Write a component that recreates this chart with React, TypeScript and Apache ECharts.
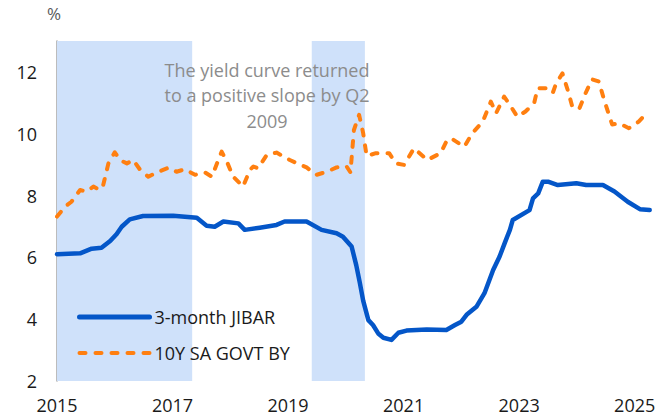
import React, { useEffect, useRef } from "react";
import * as echarts from "echarts";

const jibarDates = [2015.0, 2015.4, 2015.6, 2015.77, 2015.92, 2016.03, 2016.12, 2016.26, 2016.49, 2017.01, 2017.42, 2017.59, 2017.73, 2017.88, 2018.14, 2018.25, 2018.51, 2018.8, 2018.94, 2019.32, 2019.58, 2019.84, 2019.95, 2020.1, 2020.18, 2020.24, 2020.3, 2020.39, 2020.47, 2020.56, 2020.65, 2020.79, 2020.91, 2021.05, 2021.4, 2021.74, 2021.89, 2022.0, 2022.09, 2022.26, 2022.4, 2022.55, 2022.66, 2022.75, 2022.84, 2022.89, 2023.18, 2023.24, 2023.33, 2023.41, 2023.5, 2023.67, 2023.99, 2024.16, 2024.45, 2024.65, 2024.88, 2025.09, 2025.26];
const jibarValues = [6.1, 6.13, 6.28, 6.31, 6.53, 6.75, 6.99, 7.23, 7.34, 7.35, 7.28, 7.02, 6.99, 7.16, 7.1, 6.89, 6.96, 7.05, 7.16, 7.16, 6.89, 6.78, 6.67, 6.35, 5.75, 5.2, 4.6, 3.97, 3.81, 3.54, 3.4, 3.33, 3.56, 3.63, 3.67, 3.65, 3.81, 3.92, 4.14, 4.4, 4.84, 5.59, 6.02, 6.46, 6.89, 7.21, 7.53, 7.91, 8.07, 8.45, 8.45, 8.34, 8.4, 8.34, 8.34, 8.13, 7.8, 7.56, 7.53];

const bondDates = [2015.0, 2015.14, 2015.25, 2015.4, 2015.51, 2015.63, 2015.74, 2015.8, 2015.89, 2016.0, 2016.09, 2016.21, 2016.32, 2016.44, 2016.58, 2016.72, 2016.93, 2017.07, 2017.21, 2017.39, 2017.56, 2017.68, 2017.85, 2017.94, 2018.05, 2018.22, 2018.34, 2018.4, 2018.48, 2018.63, 2018.8, 2019.03, 2019.32, 2019.49, 2019.67, 2019.84, 2020.01, 2020.08, 2020.14, 2020.23, 2020.3, 2020.36, 2020.52, 2020.75, 2020.87, 2021.01, 2021.18, 2021.41, 2021.64, 2021.76, 2021.85, 2022.05, 2022.19, 2022.37, 2022.51, 2022.6, 2022.74, 2022.85, 2022.97, 2023.11, 2023.26, 2023.32, 2023.46, 2023.58, 2023.64, 2023.75, 2023.84, 2023.92, 2024.04, 2024.15, 2024.26, 2024.38, 2024.47, 2024.61, 2024.73, 2024.9, 2025.07, 2025.22];
const bondValues = [7.32, 7.64, 7.8, 8.18, 8.13, 8.29, 8.18, 8.34, 9.04, 9.4, 9.15, 9.04, 9.15, 8.83, 8.61, 8.74, 8.9, 8.77, 8.85, 8.67, 8.75, 8.61, 9.42, 9.1, 8.61, 8.29, 8.83, 8.94, 8.88, 9.31, 9.39, 9.15, 8.91, 8.67, 8.77, 8.91, 8.95, 8.75, 10.12, 10.61, 10.02, 9.28, 9.37, 9.37, 9.04, 8.99, 9.53, 9.15, 9.37, 9.82, 9.82, 9.58, 10.02, 10.39, 11.04, 10.66, 11.2, 10.9, 10.55, 10.72, 10.99, 11.47, 11.47, 11.31, 11.63, 11.95, 11.42, 10.88, 10.8, 11.31, 11.76, 11.69, 11.1, 10.3, 10.34, 10.18, 10.39, 10.7];

const shadedPeriods = [
  [2015.0, 2017.34],
  [2019.41, 2020.33],
];

const seriesNames = ["3-month JIBAR", "10Y SA GOVT BY"];
const xTicks = [2015, 2017, 2019, 2021, 2023, 2025];
const yTicks = [2, 4, 6, 8, 10, 12];
const annotationLines = ["The yield curve returned", "to a positive slope by Q2", "2009"];
const unitLabel = "%";

const FONT = "'Open Sans', 'Liberation Sans', sans-serif";
const BLUE = "#0456c8";
const ORANGE = "#ff7f10";

export default function App() {
  const ref = useRef<HTMLDivElement>(null);
  useEffect(() => {
    if (!ref.current) return;
    const chart = echarts.init(ref.current, undefined, { renderer: "svg" });
    const zip = (a: number[], b: number[]) => a.map((d, i) => [d, b[i]]);
    chart.setOption({
      animation: false,
      backgroundColor: "#ffffff",
      textStyle: { fontFamily: FONT },
      grid: { left: 57, right: 20, top: 41, bottom: 38, containLabel: false },
      xAxis: {
        type: "value",
        min: xTicks[0],
        max: 2025.3,
        interval: 2,
        axisLine: { show: false },
        axisTick: { show: false },
        splitLine: { show: false },
        axisLabel: {
          color: "#1a1a1a",
          fontSize: 18,
          fontFamily: FONT,
          margin: 15,
          showMaxLabel: false,
          formatter: (v: number) => (xTicks.includes(Math.round(v)) && Math.abs(v - Math.round(v)) < 1e-6 ? String(Math.round(v)) : ""),
        },
      },
      yAxis: {
        type: "value",
        min: yTicks[0],
        max: 13,
        interval: 2,
        axisLine: { show: true, lineStyle: { color: "#a6a6a6", width: 1.5 } },
        axisTick: { show: false },
        splitLine: { show: false },
        axisLabel: {
          color: "#1a1a1a",
          fontSize: 18,
          fontFamily: FONT,
          margin: 20,
          formatter: (v: number) => (yTicks.includes(v) ? String(v) : ""),
        },
      },
      legend: {
        data: [
          { name: seriesNames[0], lineStyle: { width: 5, color: BLUE } },
          { name: seriesNames[1], lineStyle: { width: 4, color: ORANGE, type: [6, 10], cap: "round" } },
        ],
        orient: "vertical",
        left: 72,
        top: 300,
        itemWidth: 70,
        itemHeight: 14,
        itemGap: 12,
        itemStyle: { opacity: 0 },
        textStyle: { fontSize: 18, fontFamily: FONT, color: "#1a1a1a", lineHeight: 24 },
      },
      graphic: [
        {
          type: "text",
          left: 47,
          top: 5,
          z: 100,
          style: { text: unitLabel, fill: "#595959", font: `17px ${FONT}` },
        },
        {
          type: "text",
          x: 267,
          y: 57,
          z: 100,
          style: {
            text: annotationLines.join("\n"),
            fill: "#8c8c8c",
            font: `18px ${FONT}`,
            align: "center",
            lineHeight: 25.5,
          },
        },
      ],
      series: [
        {
          name: "shade",
          type: "line",
          data: [],
          z: 0,
          silent: true,
          markArea: {
            silent: true,
            itemStyle: { color: "#cfe1fa" },
            data: shadedPeriods.map(([a, b]) => [{ xAxis: a }, { xAxis: b }]),
          },
        },
        {
          name: seriesNames[0],
          type: "line",
          data: zip(jibarDates, jibarValues),
          symbol: "none",
          z: 3,
          lineStyle: { color: BLUE, width: 4.5, cap: "round", join: "round" },
          itemStyle: { color: BLUE },
        },
        {
          name: seriesNames[1],
          type: "line",
          data: zip(bondDates, bondValues),
          symbol: "none",
          z: 3,
          lineStyle: { color: ORANGE, width: 4, type: [6, 10], cap: "round", join: "round" },
          itemStyle: { color: ORANGE },
        },
      ],
    });
    return () => chart.dispose();
  }, []);
  return <div ref={ref} style={{ position: "fixed", left: 0, top: 0, width: 672, height: 419 }} />;
}
